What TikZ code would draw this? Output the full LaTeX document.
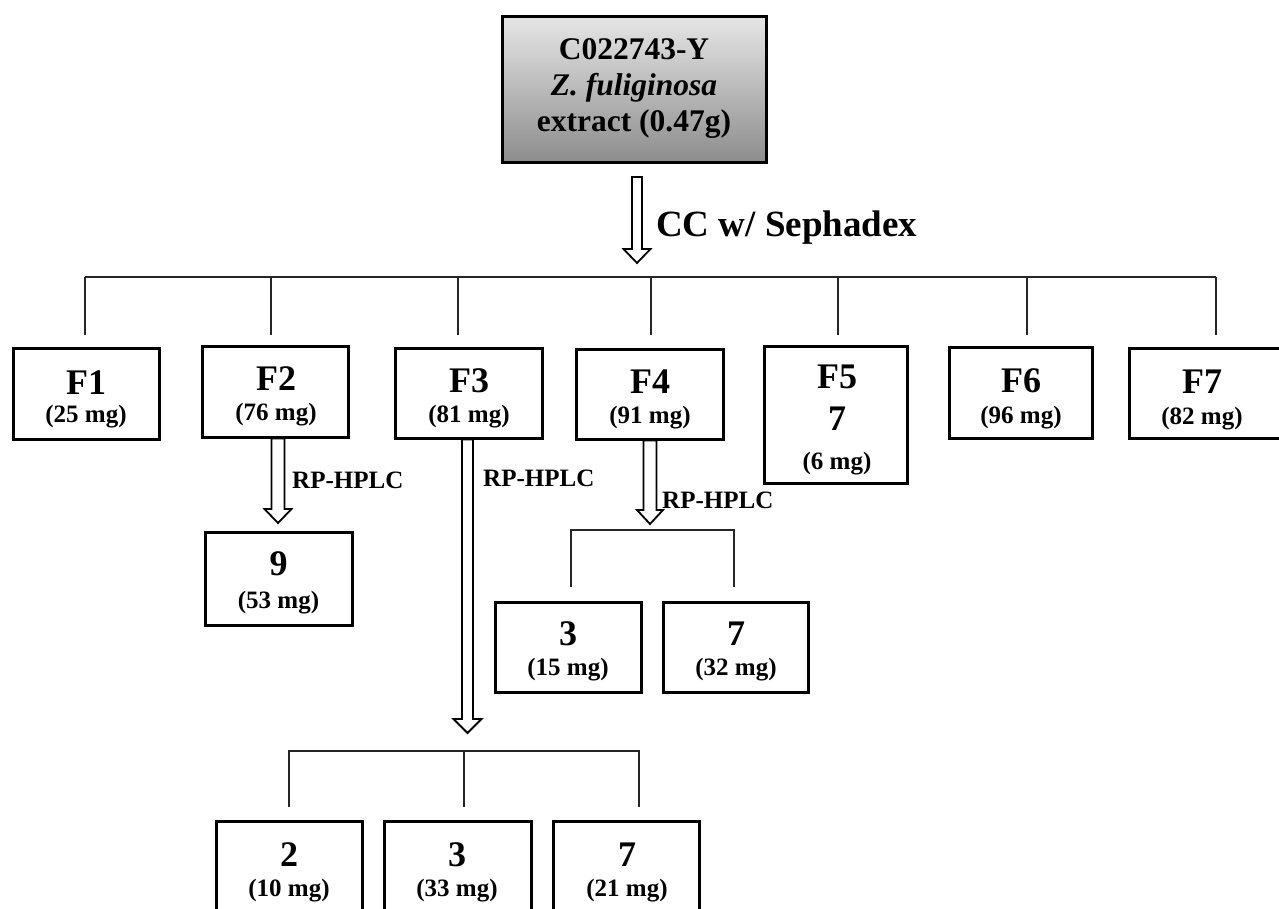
\documentclass[tikz,border=0pt]{standalone}
\usepackage{fontspec}
\setmainfont{Liberation Serif}
\usetikzlibrary{calc}
\tikzset{
  box/.style={draw=black, line width=3pt, fill=white, inner sep=0pt},
  big/.style={anchor=base, inner sep=0pt, font=\fontsize{36}{36}\selectfont\bfseries},
  small/.style={anchor=base, inner sep=0pt, font=\fontsize{25}{25}\selectfont\bfseries},
  toptxt/.style={anchor=base, inner sep=0pt, font=\fontsize{31.5}{31.5}\selectfont\bfseries},
  lab/.style={anchor=base west, inner sep=0pt, font=\fontsize{25}{25}\selectfont\bfseries},
  conn/.style={line width=2pt, draw=black!85},
  harrow/.style={draw=black, line width=1.8pt, fill=white, line join=miter},
}
\newcommand\hollowarrow[4]{%
  \draw[harrow] let \p1=(#1), \p2=(#2) in
    (\x2-#3,\y1) -- (\x2-#3,\y2+14pt) -- (\x2-#4,\y2+14pt) -- (\x2,\y2)
    -- (\x2+#4,\y2+14pt) -- (\x2+#3,\y2+14pt) -- (\x2+#3,\y1) -- cycle;}
\begin{document}
\begin{tikzpicture}[x=1pt,y=-1pt]
\useasboundingbox (0,0) rectangle (1279,909);
\clip (0,0) rectangle (1279,909);
\fill[white] (0,0) rectangle (1279,909);

% top box
\node[draw=black, line width=3pt, top color=black!10, bottom color=black!45,
      minimum width=264pt, minimum height=146pt, inner sep=0pt] (top) at (634,90) {};
\node[toptxt] (t1) at (634,60) {C022743-Y};
\node[toptxt, font=\fontsize{31.5}{31.5}\selectfont\bfseries\itshape] (t2) at (634,96) {Z. fuliginosa};
\node[toptxt] (t3) at (634,132) {extract (0.47g)};

% main hollow arrow
\coordinate (a0) at (637,177);
\coordinate (a0t) at (637,263);
\hollowarrow{a0}{a0t}{5pt}{13.5pt}
\node[lab, font=\fontsize{37}{37}\selectfont\bfseries] (cc) at (656,237) {CC w/ Sephadex};

% main bar and drops
\coordinate (barL) at (85,277);
\coordinate (barR) at (1216,277);
\draw[conn] (barL) -- (barR);
\foreach \i/\x in {1/85,2/271,3/458,4/651,5/838,6/1027,7/1216}{
  \coordinate (d\i) at (\x,335);
  \draw[conn] (d\i |- barL) -- (d\i);
}

% fraction boxes
\node[box, minimum width=146pt, minimum height=91pt] (F1) at (86,393.5) {};
\node[box, minimum width=146pt, minimum height=91pt] (F2) at (275,391.5) {};
\node[box, minimum width=147pt, minimum height=90pt] (F3) at (468.5,393) {};
\node[box, minimum width=147pt, minimum height=90pt] (F4) at (649.5,394) {};
\node[box, minimum width=143pt, minimum height=137pt] (F5) at (835.5,414.5) {};
\node[box, minimum width=143pt, minimum height=91pt] (F6) at (1020.5,392.5) {};
\node[box, minimum width=156pt, minimum height=90pt] (F7) at (1207,393.5) {};

% hollow arrows from fractions
\coordinate (a2t) at (278,523);
\coordinate (a3t) at (467.5,733);
\coordinate (a4t) at (650,524);
\hollowarrow{F2.south}{a2t}{6.5pt}{13.5pt}
\hollowarrow{F3.south}{a3t}{5.5pt}{14pt}
\hollowarrow{F4.south}{a4t}{6.5pt}{13pt}
\node[lab] (r2) at (292,488) {RP-HPLC};
\node[lab] (r3) at (483,486) {RP-HPLC};
\node[lab] (r4) at (662,508) {RP-HPLC};

% F4 bracket
\coordinate (k1) at (571,587);
\coordinate (k2) at (734,587);
\draw[conn] (k1) -- ++(0,-57) -| (k2);

% F3 bracket
\coordinate (m1) at (289,807);
\coordinate (m2) at (464,807);
\coordinate (m3) at (639,807);
\draw[conn] (m1) -- ++(0,-56) -| (m3);
\draw[conn] (m2) -- ++(0,-56);

% compound boxes
\node[box, minimum width=147pt, minimum height=93pt] (n9) at (278.5,578.5) {};
\node[box, minimum width=146pt, minimum height=90pt] (n3a) at (568,647) {};
\node[box, minimum width=145pt, minimum height=90pt] (n7a) at (735.5,647) {};
\node[box, minimum width=146pt, minimum height=90pt] (n2b) at (289,866) {};
\node[box, minimum width=147pt, minimum height=90pt] (n3b) at (457.5,866) {};
\node[box, minimum width=146pt, minimum height=90pt] (n7b) at (626,866) {};

% texts
\node[big] (F1a) at (86,394) {F1};     \node[small] (F1b) at (86,422) {(25 mg)};
\node[big] (F2a) at (276,390) {F2};    \node[small] (F2b) at (276,420) {(76 mg)};
\node[big] (F3a) at (469,392) {F3};    \node[small] (F3b) at (469,422) {(81 mg)};
\node[big] (F4a) at (650,393) {F4};    \node[small] (F4b) at (650,423) {(91 mg)};
\node[big] (F5a) at (837,388) {F5};    \node[big] (F5b) at (837,430) {7};
\node[small] (F5c) at (837,469) {(6 mg)};
\node[big] (F6a) at (1021,392) {F6};   \node[small] (F6b) at (1021,423) {(96 mg)};
\node[big] (F7a) at (1202,393) {F7};   \node[small] (F7b) at (1202,424) {(82 mg)};
\node[big] (n9a) at (278.5,575) {9};   \node[small] (n9b) at (278.5,608) {(53 mg)};
\node[big] (n3aa) at (568,645) {3};    \node[small] (n3ab) at (568,675) {(15 mg)};
\node[big] (n7aa) at (736,645) {7};    \node[small] (n7ab) at (736,675) {(32 mg)};
\node[big] (n2ba) at (289,866) {2};    \node[small] (n2bb) at (289,896) {(10 mg)};
\node[big] (n3ba) at (457,866) {3};    \node[small] (n3bb) at (457,896) {(33 mg)};
\node[big] (n7ba) at (627,866) {7};    \node[small] (n7bb) at (627,896) {(21 mg)};
\end{tikzpicture}
\end{document}
